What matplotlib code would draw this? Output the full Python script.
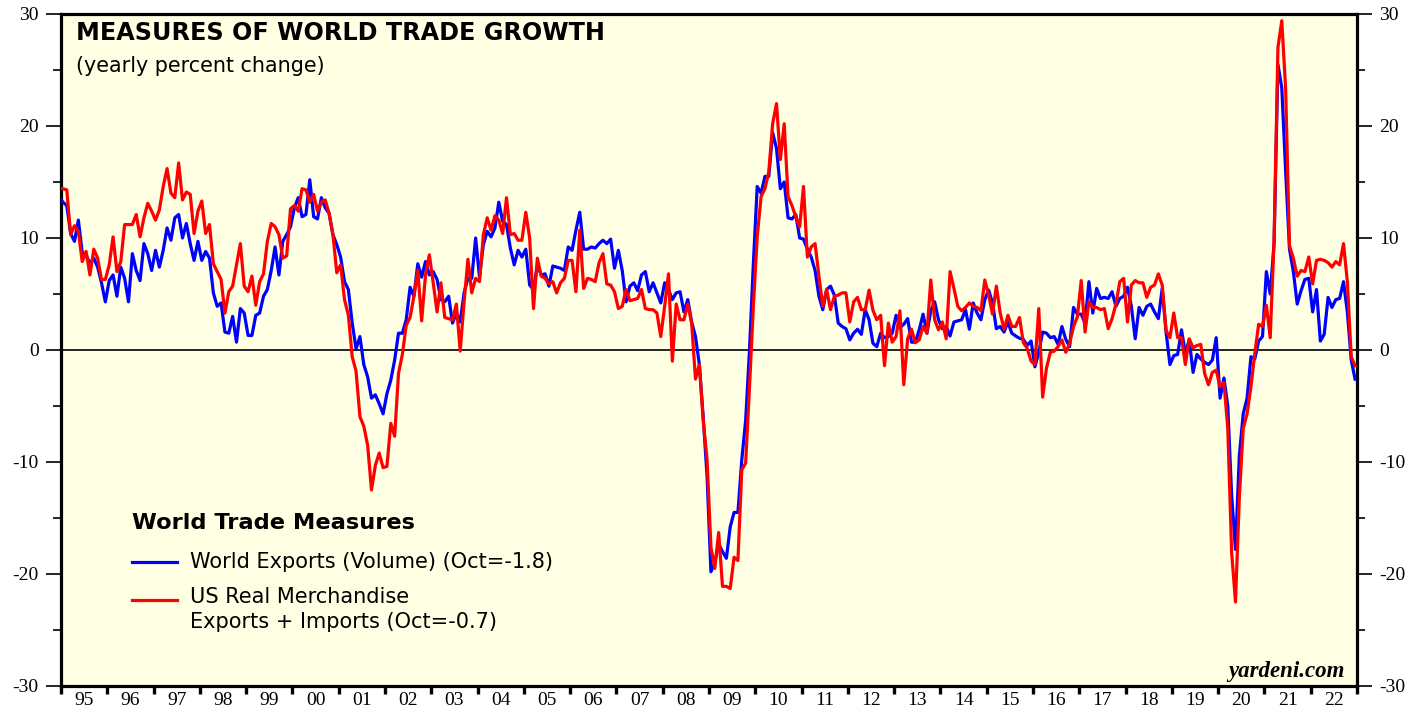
import numpy as np
import matplotlib
matplotlib.use("Agg")
import matplotlib.pyplot as plt

plt.rcParams["font.family"] = ["Liberation Serif", "DejaVu Serif"]
plt.rcParams["axes.unicode_minus"] = False

# monthly yearly-% change, Jan 1995 onward
world_exports = [
    13.7, 13.2, 12.9, 10.4, 9.7, 11.6, 8.7, 8.5, 7.7, 8.2, 7.4, 6.0,
    4.3, 6.2, 6.7, 4.8, 7.4, 6.4, 4.3, 8.6, 7.1, 6.2, 9.5, 8.6,
    7.1, 8.9, 7.4, 8.9, 10.9, 9.8, 11.8, 12.1, 10.0, 11.3, 9.5, 8.0,
    9.7, 8.0, 8.8, 8.2, 5.1, 3.9, 4.2, 1.6, 1.5, 3.0, 0.7, 3.7,
    3.3, 1.3, 1.3, 3.1, 3.3, 4.8, 5.4, 7.1, 9.2, 6.7, 9.7, 10.3,
    11.0, 12.7, 13.6, 11.9, 12.1, 15.2, 11.9, 11.7, 13.6, 12.7, 12.2, 10.3,
    9.4, 8.3, 6.1, 5.4, 2.4, 0.1, 1.2, -1.3, -2.4, -4.3, -4.0, -4.8,
    -5.7, -3.9, -2.7, -0.9, 1.5, 1.5, 2.7, 5.6, 4.8, 7.7, 6.5, 7.9,
    6.7, 7.0, 6.3, 4.5, 4.3, 4.8, 2.4, 3.3, 2.5, 5.1, 6.4, 6.4,
    10.0, 6.5, 9.4, 10.6, 10.1, 10.9, 13.2, 11.5, 11.2, 9.1, 7.6, 8.9,
    8.3, 9.0, 5.8, 5.4, 7.6, 6.7, 6.8, 5.7, 7.5, 7.4, 7.3, 7.1,
    9.2, 8.9, 10.7, 12.3, 9.0, 9.0, 9.2, 9.1, 9.5, 9.8, 9.5, 9.9,
    7.3, 8.9, 7.1, 4.3, 5.7, 6.0, 5.3, 6.7, 7.0, 5.2, 6.0, 5.1,
    4.2, 6.0, 5.4, 4.5, 5.1, 5.2, 3.4, 4.5, 2.5, 1.2, -1.3, -6.0,
    -11.3, -19.8, -19.0, -17.3, -18.0, -18.6, -15.8, -14.5, -14.5, -9.8, -6.3, 0.0,
    7.7, 14.6, 14.0, 15.5, 15.5, 19.4, 18.0, 14.4, 15.0, 11.8, 11.7, 12.1,
    10.0, 9.9, 9.0, 8.3, 7.1, 4.8, 3.6, 5.4, 5.7, 4.9, 2.4, 2.1,
    1.9, 0.9, 1.5, 1.85, 1.4, 3.6, 2.7, 0.6, 0.3, 1.5, 1.1, 1.2,
    1.5, 3.1, 2.0, 2.3, 2.8, 0.7, 0.7, 1.8, 3.2, 1.5, 3.5, 4.3,
    2.7, 1.9, 2.1, 1.25, 2.5, 2.6, 2.7, 3.6, 1.85, 4.2, 3.3, 2.7,
    4.5, 5.35, 4.2, 1.9, 2.1, 1.6, 2.5, 1.5, 1.25, 1.05, 0.95, 0.4,
    0.8, -1.5, -0.2, 1.6, 1.5, 1.1, 1.2, 0.5, 2.1, 0.95, 0.3, 3.8,
    3.2, 3.2, 2.4, 6.1, 3.3, 5.5, 4.6, 4.7, 4.6, 5.2, 3.9, 4.6,
    4.8, 5.6, 3.9, 1.0, 3.8, 3.1, 3.9, 4.1, 3.4, 2.8, 5.5, 1.6,
    -1.3, -0.5, -0.4, 1.8, -0.3, 0.9, -2.0, -0.4, -0.8, -1.1, -1.3, -0.9,
    1.1, -4.3, -2.5, -5.0, -13.0, -17.8, -9.4, -5.7, -4.3, -0.6, -0.8, 0.8,
    1.2, 7.0, 5.0, 9.5, 25.5, 23.4, 16.0, 9.0, 7.0, 4.1, 5.3, 6.3,
    6.4, 3.4, 5.4, 0.8, 1.4, 4.7, 3.8, 4.5, 4.6, 6.1, 3.4, -0.9,
    -2.6,
]

us_trade = [
    14.5, 14.4, 14.3, 10.3, 11.1, 10.6, 7.9, 8.8, 6.7, 9.0, 8.2, 6.3,
    6.3, 7.6, 10.1, 7.0, 7.9, 11.2, 11.2, 11.2, 12.1, 10.1, 11.8, 13.1,
    12.4, 11.6, 12.5, 14.6, 16.2, 14.0, 13.6, 16.7, 13.4, 14.1, 13.9, 10.4,
    12.4, 13.3, 10.4, 11.2, 7.7, 7.0, 6.3, 3.3, 5.2, 5.7, 7.6, 9.5,
    5.7, 5.2, 6.6, 4.0, 6.1, 6.8, 9.7, 11.3, 11.0, 10.3, 8.2, 8.4,
    12.6, 12.9, 12.4, 14.4, 14.3, 13.2, 13.9, 12.4, 13.2, 13.4, 12.2, 10.3,
    6.9, 7.6, 4.5, 3.1, -0.6, -1.9, -5.95, -6.8, -8.5, -12.5, -10.3, -9.2,
    -10.5, -10.4, -6.55, -7.7, -2.1, -0.4, 2.2, 2.9, 4.8, 7.1, 2.6, 6.7,
    8.5, 6.0, 3.4, 6.0, 2.9, 2.8, 2.7, 4.1, -0.1, 4.3, 8.1, 5.1,
    6.4, 6.1, 10.3, 11.8, 10.7, 12.0, 11.6, 10.4, 13.6, 10.3, 10.4, 9.8,
    9.8, 12.3, 10.0, 3.7, 8.2, 6.6, 6.4, 5.9, 6.1, 5.1, 6.0, 6.4,
    8.0, 8.0, 5.2, 10.7, 5.5, 6.4, 6.3, 6.1, 7.8, 8.6, 5.9, 5.8,
    5.2, 3.7, 3.9, 5.4, 4.4, 4.5, 4.6, 5.4, 3.7, 3.6, 3.6, 3.3,
    1.2, 3.9, 6.8, -1.0, 4.1, 2.7, 2.7, 4.1, 2.4, -2.6, -1.3, -6.3,
    -9.8, -17.6, -19.5, -16.3, -21.1, -21.1, -21.3, -18.5, -18.8, -10.7, -10.1, -3.3,
    3.9, 10.1, 13.7, 14.4, 15.9, 20.2, 22.0, 17.0, 20.2, 13.7, 12.9, 11.9,
    11.0, 14.6, 8.3, 9.2, 9.5, 6.6, 3.9, 5.4, 3.6, 4.8, 4.9, 5.1,
    5.1, 2.5, 4.3, 4.7, 3.6, 3.6, 5.35, 3.55, 2.7, 3.1, -1.4, 2.4,
    0.7, 1.2, 3.5, -3.1, 1.0, 1.85, 0.65, 0.9, 2.1, 1.5, 6.25, 2.7,
    1.8, 2.5, 1.0, 7.0, 5.5, 3.9, 3.5, 3.8, 4.2, 3.9, 3.8, 3.5,
    6.25, 4.9, 3.2, 5.7, 3.3, 1.85, 3.1, 2.1, 2.1, 2.9, 0.65, 0.15,
    -1.0, -1.3, 3.7, -4.2, -1.6, -0.2, -0.1, 0.3, 0.9, -0.2, 0.6, 2.1,
    2.95, 6.2, 1.6, 4.3, 3.8, 3.8, 3.6, 3.7, 1.9, 2.8, 4.1, 6.1,
    6.4, 2.5, 5.8, 6.2, 6.0, 6.0, 4.7, 5.6, 5.8, 6.8, 5.8, 1.75,
    1.1, 3.3, 1.1, 1.1, -1.3, 1.0, 0.2, 0.4, 0.5, -2.1, -3.1, -2.0,
    -1.8, -3.3, -2.9, -7.0, -18.1, -22.5, -13.1, -7.0, -5.7, -3.3, -0.3, 2.3,
    2.1, 4.0, 1.1, 9.8, 27.0, 29.4, 23.3, 9.3, 8.2, 6.6, 7.1, 7.0,
    8.3, 5.9, 8.0, 8.1, 8.0, 7.8, 7.4, 7.9, 7.6, 9.5, 6.1, -0.6,
    -1.4,
]

years = ["95", "96", "97", "98", "99", "00", "01", "02", "03", "04",
         "05", "06", "07", "08", "09", "10", "11", "12", "13", "14",
         "15", "16", "17", "18", "19", "20", "21", "22"]

W, H = 1423, 717
fig = plt.figure(figsize=(W / 100, H / 100), dpi=100)
ax = fig.add_axes([61 / W, 31 / H, 1296 / W, 672 / H])
ax.set_facecolor("#FFFFE3")

x = np.arange(len(world_exports))
ax.plot(x, world_exports, color="#0000FF", lw=2.3, zorder=3)
ax.plot(np.arange(len(us_trade)), us_trade, color="#FF0000", lw=2.3, zorder=4)
ax.axhline(0, color="black", lw=1.2, zorder=2)

ax.set_xlim(0.5, 0.5 + 12 * len(years))
ax.set_ylim(-30, 30)

# y axis: both sides, labels every 10, minor every 5
ax.set_yticks(range(-30, 31, 10))
ax.set_yticks(range(-25, 30, 10), minor=True)
ax.tick_params(axis="y", which="major", direction="out", length=11, width=1.2,
               left=True, right=True, labelleft=True, labelright=True,
               labelsize=14, pad=5)
ax.tick_params(axis="y", which="minor", direction="out", length=5.5, width=1.2,
               left=True, right=True)

# x axis: year boundary ticks, labels centred in each year
ax.set_xticks([0.5 + 12 * k for k in range(len(years) + 1)])
ax.set_xticklabels([])
ax.set_xticks([6.5 + 12 * k for k in range(len(years))], minor=True)
ax.set_xticklabels(years, minor=True)
ax.tick_params(axis="x", which="major", direction="out", length=6, width=2.4)
ax.tick_params(axis="x", which="minor", length=0, pad=4, labelsize=14)

for s in ax.spines.values():
    s.set_linewidth(2.3)

sans = "DejaVu Sans"
ax.text(0.0116, 0.989, "MEASURES OF WORLD TRADE GROWTH", transform=ax.transAxes,
        fontsize=17.2, fontweight="bold", family=sans, va="top", ha="left")
ax.text(0.0116, 0.938, "(yearly percent change)", transform=ax.transAxes,
        fontsize=14.9, family=sans, va="top", ha="left")

# legend
ax.text(0.0548, 0.2426, "World Trade Measures", transform=ax.transAxes,
        fontsize=16.2, fontweight="bold", family=sans, va="center", ha="left")
ax.plot([0.0548, 0.0895], [0.1845, 0.1845], transform=ax.transAxes,
        color="#0000FF", lw=2.3)
ax.text(0.0995, 0.1845, "World Exports (Volume) (Oct=-1.8)", transform=ax.transAxes,
        fontsize=15, family=sans, va="center", ha="left")
ax.plot([0.0548, 0.0895], [0.128, 0.128], transform=ax.transAxes,
        color="#FF0000", lw=2.3)
ax.text(0.0995, 0.1475, "US Real Merchandise\nExports + Imports (Oct=-0.7)",
        transform=ax.transAxes, fontsize=15, family=sans, va="top", ha="left",
        linespacing=1.3)

ax.text(0.9907, 0.0134, "yardeni.com", transform=ax.transAxes, fontsize=16.5,
        fontweight="bold", fontstyle="italic", family="Liberation Serif",
        va="baseline", ha="right")

fig.savefig("out.png", dpi=100)
